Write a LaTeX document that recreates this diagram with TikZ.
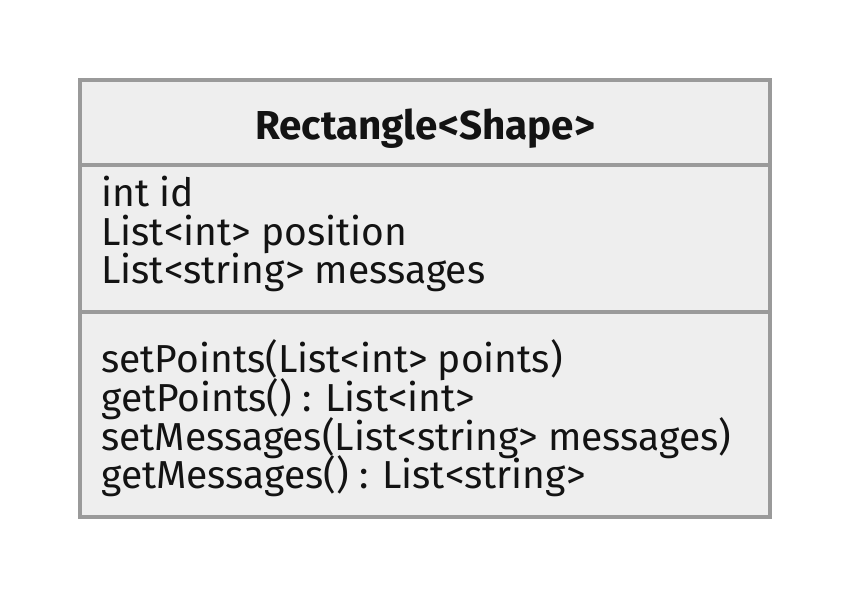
\documentclass[tikz,border=0pt]{standalone}
\usepackage{fontspec}
\setmainfont{Fira Sans}
\usetikzlibrary{positioning}
\definecolor{boxline}{HTML}{9A9A9A}
\definecolor{boxfill}{HTML}{EEEEEE}
\definecolor{boxtext}{HTML}{131313}
\setlength{\lineskiplimit}{-20pt}
\tikzset{
  compartment/.style={draw=boxline, fill=boxfill, line width=2.1pt, outer sep=0pt,
    minimum width=13.8cm, inner sep=0pt},
  members/.style={align=left, inner sep=0pt, text=boxtext,
    font=\fontsize{22.2}{22.1}\selectfont},
  classname/.style={inner sep=0pt, text=boxtext,
    font=\fontsize{23}{23}\selectfont\bfseries}
}
\begin{document}
\begin{tikzpicture}[x=0.02cm,y=-0.02cm]
  \useasboundingbox (0,0) rectangle (850,598);
  % class box
  \node[compartment, minimum height=1.7cm, anchor=north west] (head) at (80,80) {};
  \node[compartment, minimum height=2.94cm, below=0pt of head] (attrs) {};
  \node[compartment, minimum height=4.1cm, below=0pt of attrs] (meths) {};
  % texts (base anchor sits on the last line)
  \node[classname, anchor=base] (title) at (425,140) {Rectangle<Shape>};
  \node[members, anchor=base west] (attrlist) at (101,284)
    {int id\\List<int> position\\List<string> messages};
  \node[members, anchor=base west] (methlist) at (101,489)
    {setPoints(List<int> points)\\getPoints() : List<int>\\setMessages(List<string> messages)\\getMessages() : List<string>};
\end{tikzpicture}
\end{document}
